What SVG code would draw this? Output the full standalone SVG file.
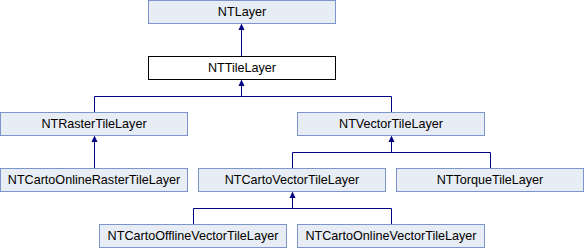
<svg xmlns="http://www.w3.org/2000/svg" width="584" height="248" viewBox="0 0 584 248">
  <style>
    .box { fill: #E8ECF5; stroke: #7C95CA; stroke-width: 1; }
    .cur { fill: #FFFFFF; stroke: #000000; stroke-width: 1; }
    .lbl { font-family: "Liberation Sans", Arial, sans-serif; font-size: 12.6px; fill: #000000; text-anchor: middle; }
    .edge { fill: none; stroke: #000080; stroke-width: 1; }
    .head { fill: #000080; stroke: none; }
  </style>
  <rect width="584" height="248" fill="#FFFFFF"/>

  <!-- inheritance connectors -->
  <g id="connectors">
    <path class="edge" d="M241.5,56 V25"/>
    <polygon class="head" points="241.5,23.5 238.5,30 244.5,30"/>

    <path class="edge" d="M94.5,112 V96.5 H391.5 V112 M241.5,96.5 V81"/>
    <polygon class="head" points="241.5,79.5 238.5,86 244.5,86"/>

    <path class="edge" d="M94.5,168 V137"/>
    <polygon class="head" points="94.5,135.5 91.5,142 97.5,142"/>

    <path class="edge" d="M292.5,168 V152.5 H490.5 V168 M391.5,152.5 V137"/>
    <polygon class="head" points="391.5,135.5 388.5,142 394.5,142"/>

    <path class="edge" d="M193.5,224 V208.5 H391.5 V224 M292.5,208.5 V193"/>
    <polygon class="head" points="292.5,191.5 289.5,198 295.5,198"/>
  </g>

  <g id="NTLayer">
    <rect class="box" x="148.5" y="0.5" width="187" height="23"/>
    <text class="lbl" x="242" y="16">NTLayer</text>
  </g>
  <g id="NTTileLayer">
    <rect class="cur" x="148.5" y="56.5" width="187" height="23"/>
    <text class="lbl" x="242" y="72">NTTileLayer</text>
  </g>
  <g id="NTRasterTileLayer">
    <rect class="box" x="0.5" y="112.5" width="187" height="23"/>
    <text class="lbl" x="94" y="128">NTRasterTileLayer</text>
  </g>
  <g id="NTVectorTileLayer">
    <rect class="box" x="297.5" y="112.5" width="187" height="23"/>
    <text class="lbl" x="391" y="128">NTVectorTileLayer</text>
  </g>
  <g id="NTCartoOnlineRasterTileLayer">
    <rect class="box" x="0.5" y="168.5" width="187" height="23"/>
    <text class="lbl" x="94" y="184">NTCartoOnlineRasterTileLayer</text>
  </g>
  <g id="NTCartoVectorTileLayer">
    <rect class="box" x="198.5" y="168.5" width="187" height="23"/>
    <text class="lbl" x="292" y="184">NTCartoVectorTileLayer</text>
  </g>
  <g id="NTTorqueTileLayer">
    <rect class="box" x="396.5" y="168.5" width="187" height="23"/>
    <text class="lbl" x="490" y="184">NTTorqueTileLayer</text>
  </g>
  <g id="NTCartoOfflineVectorTileLayer">
    <rect class="box" x="99.5" y="224.5" width="187" height="23"/>
    <text class="lbl" x="193" y="240">NTCartoOfflineVectorTileLayer</text>
  </g>
  <g id="NTCartoOnlineVectorTileLayer">
    <rect class="box" x="297.5" y="224.5" width="187" height="23"/>
    <text class="lbl" x="391" y="240">NTCartoOnlineVectorTileLayer</text>
  </g>
</svg>
